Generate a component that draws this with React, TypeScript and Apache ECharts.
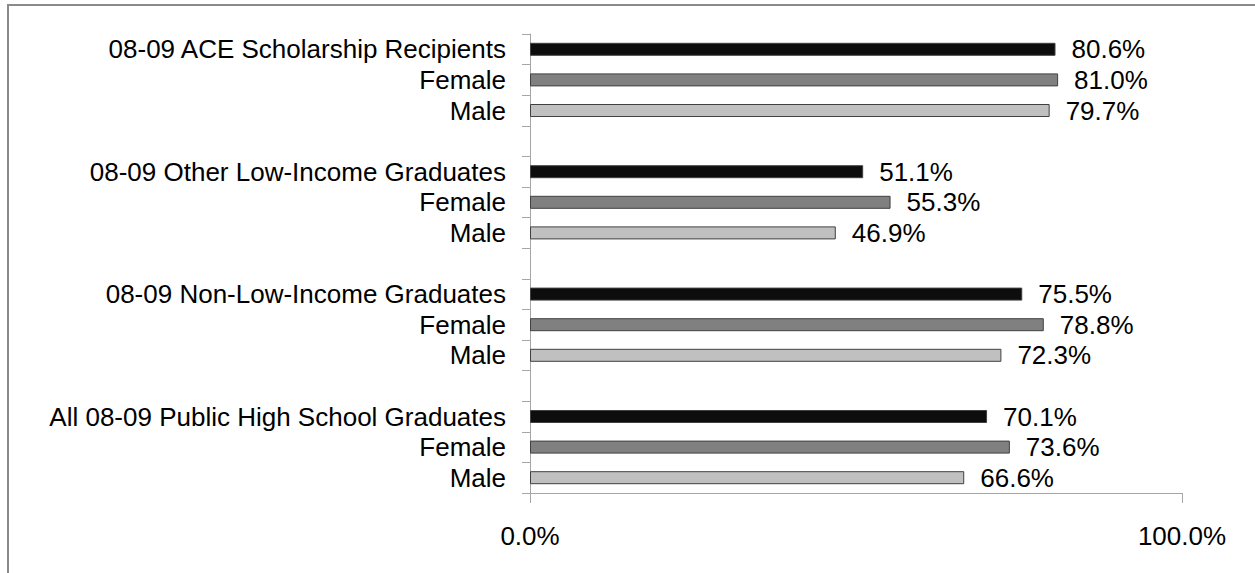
import React, { useEffect, useRef } from "react";
import * as echarts from "echarts";

const groups = [
  "08-09 ACE Scholarship Recipients",
  "08-09 Other Low-Income Graduates",
  "08-09 Non-Low-Income Graduates",
  "All 08-09 Public High School Graduates",
];
const allValues = [80.6, 51.1, 75.5, 70.1];
const femaleValues = [81.0, 55.3, 78.8, 73.6];
const maleValues = [79.7, 46.9, 72.3, 66.6];
const subLabels = ["Female", "Male"];
const xTicks = [0, 100];

const colors = { all: "#0d0d0d", female: "#808080", male: "#c0c0c0" };
const FONT = "Liberation Sans, Arial, sans-serif";
const FS = 26;

export default function App() {
  const ref = useRef<HTMLDivElement>(null);
  useEffect(() => {
    if (!ref.current) return;
    const chart = echarts.init(ref.current, null, { renderer: "svg" });

    const cats: string[] = [];
    const data: any[] = [];
    groups.forEach((g, i) => {
      if (i > 0) {
        cats.push("");
        data.push({ value: "-" });
      }
      cats.push(g);
      data.push({ value: allValues[i], itemStyle: { color: colors.all } });
      cats.push(subLabels[0]);
      data.push({ value: femaleValues[i], itemStyle: { color: colors.female } });
      cats.push(subLabels[1]);
      data.push({ value: maleValues[i], itemStyle: { color: colors.male } });
    });
    const keys = cats.map((_, i) => "c" + i);

    chart.setOption({
      animation: false,
      backgroundColor: "#ffffff",
      textStyle: { fontFamily: FONT },
      graphic: [
        {
          type: "polyline",
          shape: { points: [[8, 600], [8, 5], [1300, 5]] },
          style: { stroke: "#8a8a8a", lineWidth: 2, fill: "none" },
          silent: true,
        },
      ],
      grid: { left: 530, right: 73, top: 34, bottom: 80, containLabel: false },
      xAxis: {
        type: "value",
        min: xTicks[0],
        max: xTicks[xTicks.length - 1],
        interval: 100,
        axisLine: { show: true, lineStyle: { color: "#a6a6a6", width: 1 } },
        axisTick: { show: true, length: 10, inside: false, lineStyle: { color: "#a6a6a6" } },
        splitLine: { show: false },
        axisLabel: {
          margin: 30,
          fontSize: FS,
          color: "#000",
          fontFamily: FONT,
          formatter: (v: number) => v.toFixed(1) + "%",
        },
      },
      yAxis: {
        type: "category",
        inverse: true,
        data: keys,
        axisLine: { show: true, lineStyle: { color: "#a6a6a6", width: 1 } },
        axisTick: { show: true, length: 8, alignWithLabel: false, interval: 0, lineStyle: { color: "#a6a6a6" } },
        axisLabel: {
          interval: 0,
          margin: 24,
          fontSize: FS,
          color: "#000",
          fontFamily: FONT,
          formatter: (_v: string, idx: number) => cats[idx],
        },
        splitLine: { show: false },
      },
      series: [
        {
          type: "bar",
          data,
          barWidth: 13,
          itemStyle: { borderColor: "#404040", borderWidth: 1 },
          label: {
            show: true,
            position: "right",
            distance: 16,
            fontSize: FS,
            color: "#000",
            fontFamily: FONT,
            formatter: (p: any) => (typeof p.value === "number" ? p.value.toFixed(1) + "%" : ""),
          },
        },
      ],
    });
    return () => chart.dispose();
  }, []);
  return (
    <div
      ref={ref}
      style={{ position: "fixed", left: 0, top: 0, width: 1255, height: 573 }}
    />
  );
}
